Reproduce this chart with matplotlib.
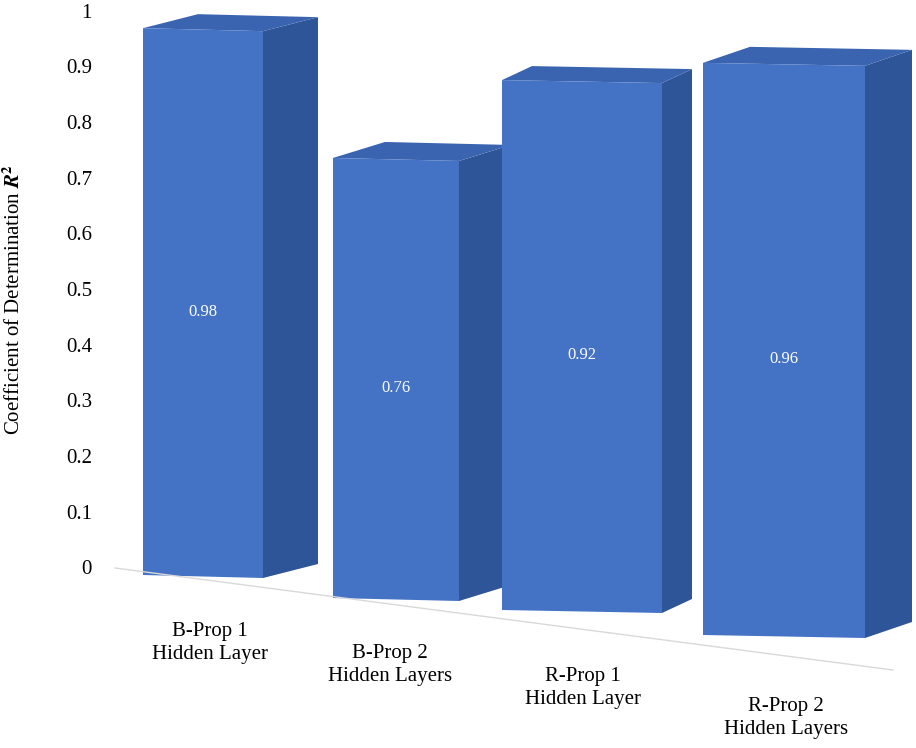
import matplotlib
matplotlib.use("Agg")
import matplotlib.pyplot as plt
from matplotlib.patches import Polygon

categories = ["B-Prop 1\nHidden Layer", "B-Prop 2\nHidden Layers", "R-Prop 1\nHidden Layer", "R-Prop 2\nHidden Layers"]
values = [0.98, 0.76, 0.92, 0.96]
ticks = [0, 0.1, 0.2, 0.3, 0.4, 0.5, 0.6, 0.7, 0.8, 0.9, 1]

# perspective geometry (pixel space): left x, width, bottom y, px per unit, depth dx, dy
geom = [(143, 120, 575, 558, 55, -14),
        (333, 126, 598, 579, 52, -16),
        (502, 160, 610, 576, 30, -14),
        (703, 162, 635, 596, 47, -16)]
label_pos = [(210, 643), (390, 665), (583, 688), (786, 718)]

plt.rcParams['font.family'] = ['Liberation Serif', 'DejaVu Serif']
plt.rcParams['mathtext.fontset'] = 'stix'
fig = plt.figure(figsize=(9.16, 7.48), dpi=100)
ax = fig.add_axes([0, 0, 1, 1])
ax.set_xlim(0, 916)
ax.set_ylim(748, 0)
ax.axis('off')

front_c, side_c, top_c = "#4472C4", "#2E5597", "#3A64B0"
ax.plot([115, 893], [568, 670], color="#d9d9d9", lw=1)

for (x, w, b, s, dx, dy), v in zip(geom, values):
    t = b - v * s
    tilt = 3
    ax.add_patch(Polygon([(x + w, b + tilt), (x + w + dx, b + tilt + dy), (x + w + dx, t + tilt + dy), (x + w, t + tilt)], closed=True, fc=side_c, ec='none'))
    ax.add_patch(Polygon([(x, t), (x + w, t + tilt), (x + w + dx, t + tilt + dy), (x + dx, t + dy)], closed=True, fc=top_c, ec='none'))
    ax.add_patch(Polygon([(x, b), (x + w, b + tilt), (x + w, t + tilt), (x, t)], closed=True, fc=front_c, ec='none'))
    ax.text(x + w / 2, (b + t) / 2 + 10, f"{v:.2f}", color='white', ha='center', va='center', fontsize=12)

for tv in ticks:
    y = 570 - tv * 557
    ax.text(92, y, f"{tv:g}", ha='right', va='center', fontsize=15)

for c, (lx, ly) in zip(categories, label_pos):
    ax.text(lx, ly, c, ha='center', va='center', fontsize=15, linespacing=1.3)

ax.text(14, 300, r"Coefficient of Determination $\boldsymbol{R}^{\mathbf{2}}$", rotation=90, ha='center', va='center', fontsize=15)
fig.savefig("out.png", dpi=100)
